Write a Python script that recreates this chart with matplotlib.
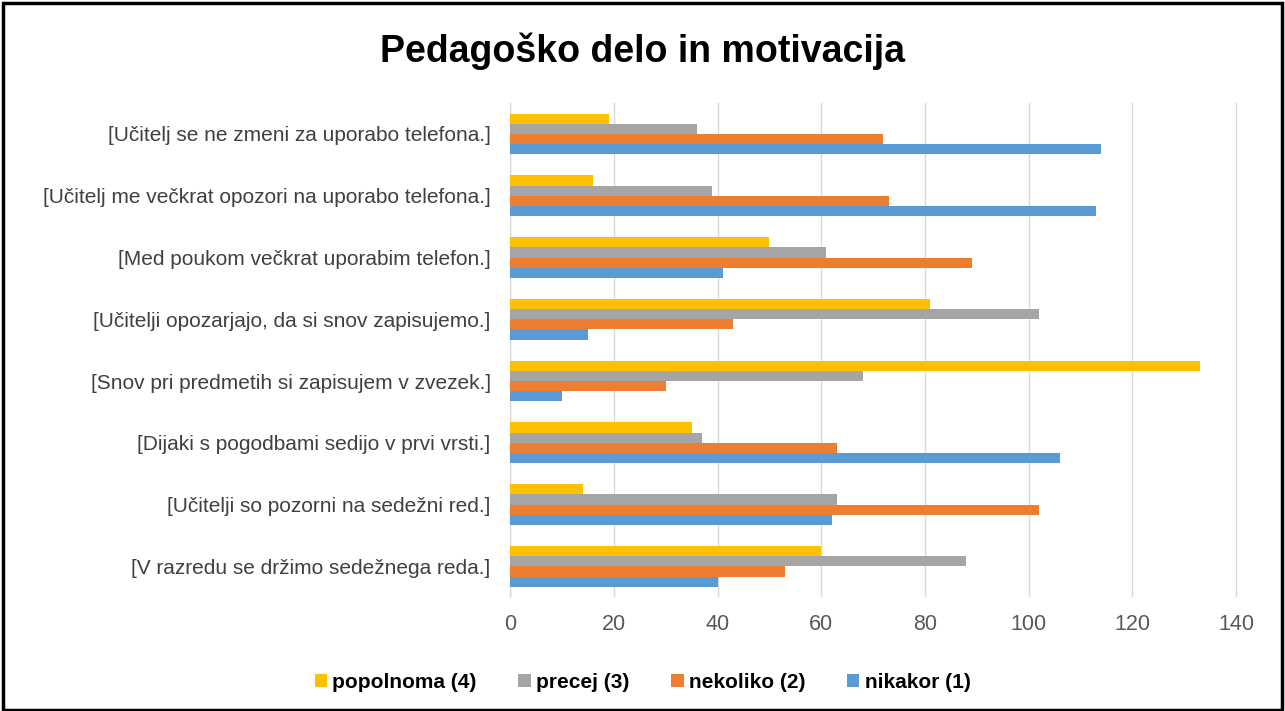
import matplotlib
matplotlib.use("Agg")
import matplotlib.pyplot as plt
import numpy as np
from matplotlib.patches import Rectangle

plt.rcParams['font.family'] = ['Liberation Sans', 'DejaVu Sans']

categories = [
    "[V razredu se držimo sedežnega reda.]",
    "[Učitelji so pozorni na sedežni red.]",
    "[Dijaki s pogodbami sedijo v prvi vrsti.]",
    "[Snov pri predmetih si zapisujem v zvezek.]",
    "[Učitelji opozarjajo, da si snov zapisujemo.]",
    "[Med poukom večkrat uporabim telefon.]",
    "[Učitelj me večkrat opozori na uporabo telefona.]",
    "[Učitelj se ne zmeni za uporabo telefona.]",
]
nikakor = [40, 62, 106, 10, 15, 41, 113, 114]
nekoliko = [53, 102, 63, 30, 43, 89, 73, 72]
precej = [88, 63, 37, 68, 102, 61, 39, 36]
popolnoma = [60, 14, 35, 133, 81, 50, 16, 19]

series_names = ["nikakor (1)", "nekoliko (2)", "precej (3)", "popolnoma (4)"]
series_vals = [nikakor, nekoliko, precej, popolnoma]
colors = ["#5B9BD5", "#ED7D31", "#A5A5A5", "#FFC000"]
x_ticks = [0, 20, 40, 60, 80, 100, 120, 140]

fig = plt.figure(figsize=(12.85, 7.11), dpi=100)
ax = fig.add_axes([0.397, 0.160, 0.585, 0.695])

y = np.arange(len(categories))
h = 0.165
handles = []
for i, (name, vals, c) in enumerate(zip(series_names, series_vals, colors)):
    off = (i - 1.5) * h
    b = ax.barh(y + off, vals, height=h, color=c, label=name, zorder=3)
    handles.append(b)

ax.set_ylim(-0.5, len(categories) - 0.5)
ax.set_xlim(0, 145)
ax.set_xticks(x_ticks)
ax.set_yticks(y)
ax.set_yticklabels(categories, fontsize=15, color="#404040")
ax.tick_params(axis='x', labelsize=15.5, colors="#595959", length=0, pad=12)
ax.tick_params(axis='y', length=0, pad=14)
ax.grid(axis='x', color="#D9D9D9", linewidth=1, zorder=0)
for s in ['top', 'right', 'bottom']:
    ax.spines[s].set_visible(False)
ax.spines['left'].set_color("#D9D9D9")
ax.spines['left'].set_linewidth(1)

fig.text(0.5, 0.928, "Pedagoško delo in motivacija", ha='center', va='center',
         fontsize=27, fontweight='bold', color='black')

leg = fig.legend(handles[::-1], series_names[::-1], loc='center', bbox_to_anchor=(0.5, 0.04),
                 ncol=4, frameon=False, prop={'size': 15, 'weight': 'bold'},
                 handlelength=0.6, handleheight=0.6, handletextpad=0.25, columnspacing=2.0)

fig.patches.append(Rectangle((0.002, 0.002), 0.996, 0.994, transform=fig.transFigure,
                             fill=False, edgecolor='black', linewidth=2.5))

fig.savefig("out.png", dpi=100, facecolor='white')
